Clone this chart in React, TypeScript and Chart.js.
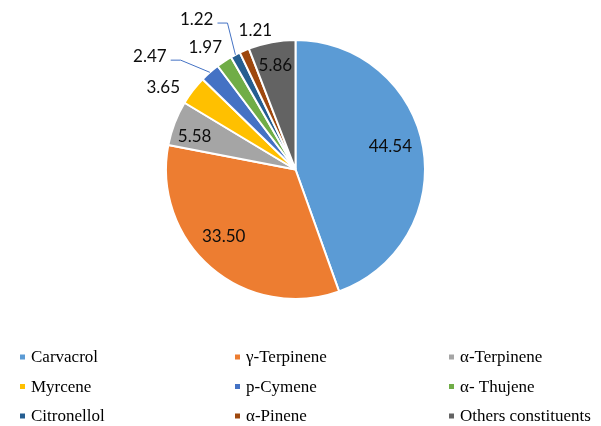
import React, { useEffect, useRef } from "react";
import { Chart, registerables } from "chart.js";

Chart.register(...registerables);

const categories = [
  "Carvacrol",
  "γ-Terpinene",
  "α-Terpinene",
  "Myrcene",
  "p-Cymene",
  "α- Thujene",
  "Citronellol",
  "α-Pinene",
  "Others constituents",
];
const values = [44.54, 33.5, 5.58, 3.65, 2.47, 1.97, 1.22, 1.21, 5.86];
const valueLabels = ["44.54", "33.50", "5.58", "3.65", "2.47", "1.97", "1.22", "1.21", "5.86"];
const colors = [
  "#5B9BD5",
  "#ED7D31",
  "#A5A5A5",
  "#FFC000",
  "#4472C4",
  "#70AD47",
  "#255E91",
  "#9E480E",
  "#636363",
];

// Label placement (style): distance as a fraction of the radius, direction in degrees
const labelRadius = [0.753, 0.76, 0.82, 1.2, 1.425, 1.172, 1.39, 1.118, 0.82];
const labelAngle = [-13.4, 136.9, 198.2, 211.7, 217.9, 233.5, 236.7, 253.9, 259.1];
const leaderLines = [false, false, false, false, true, false, true, false, false];

const LABEL_FONT = '17px Lato, "Open Sans", sans-serif';
const LEGEND_FONT = '17px "Liberation Serif", "Times New Roman", serif';

const overlayPlugin = {
  id: "overlay",
  afterDraw(chart: any) {
    const ctx = chart.ctx as CanvasRenderingContext2D;
    const meta = chart.getDatasetMeta(0);
    ctx.save();
    ctx.font = LABEL_FONT;
    ctx.textAlign = "center";
    ctx.textBaseline = "middle";
    meta.data.forEach((arc: any, i: number) => {
      const p = arc.getProps(["x", "y", "outerRadius", "startAngle", "endAngle"], true);
      const a = (labelAngle[i] * Math.PI) / 180;
      const lx = p.x + Math.cos(a) * p.outerRadius * labelRadius[i];
      const ly = p.y + Math.sin(a) * p.outerRadius * labelRadius[i];
      ctx.fillStyle = "#0d0d0d";
      ctx.fillText(valueLabels[i], lx, ly);
      if (leaderLines[i]) {
        const w = ctx.measureText(valueLabels[i]).width;
        const sx = lx + w / 2 + 4;
        const sy = ly + 4;
        const mid = (p.startAngle + p.endAngle) / 2;
        ctx.beginPath();
        ctx.strokeStyle = "#4472C4";
        ctx.lineWidth = 1;
        ctx.moveTo(sx, sy);
        ctx.lineTo(sx + 10, sy);
        ctx.lineTo(p.x + Math.cos(mid) * p.outerRadius, p.y + Math.sin(mid) * p.outerRadius);
        ctx.stroke();
      }
    });

    // legend: 3 columns
    const colX = [20, 235, 449];
    const rowY = [357, 386.5, 416];
    ctx.font = LEGEND_FONT;
    ctx.textAlign = "left";
    ctx.textBaseline = "middle";
    categories.forEach((name, i) => {
      const cx = colX[i % 3];
      const cy = rowY[Math.floor(i / 3)];
      ctx.fillStyle = colors[i];
      ctx.fillRect(cx, cy - 2.5, 5, 5);
      ctx.fillStyle = "#000000";
      ctx.fillText(name, cx + 11, cy + 1);
    });
    ctx.restore();
  },
};

export default function App() {
  const ref = useRef<HTMLCanvasElement | null>(null);
  useEffect(() => {
    document.body.style.margin = "0";
    let chart: Chart | null = null;
    let cancelled = false;
    const make = () => {
      if (cancelled || !ref.current) return;
      chart = new Chart(ref.current, {
        type: "pie",
        data: {
          labels: categories,
          datasets: [
            {
              data: values,
              backgroundColor: colors,
              borderColor: "#FFFFFF",
              borderWidth: 2,
              radius: 129.5,
            } as any,
          ],
        },
        options: {
          animation: false,
          responsive: false,
          devicePixelRatio: 1,
          layout: { padding: { left: 166, top: 40, right: 176, bottom: 127 } },
          plugins: {
            legend: { display: false },
            tooltip: { enabled: false },
          },
        },
        plugins: [overlayPlugin],
      });
    };
    const fonts = (document as any).fonts;
    if (fonts && fonts.load) {
      Promise.all([fonts.load(LABEL_FONT, "0123456789."), fonts.load(LEGEND_FONT, "Carvacrol αγ")])
        .catch(() => null)
        .then(make);
    } else {
      make();
    }
    return () => {
      cancelled = true;
      if (chart) chart.destroy();
    };
  }, []);
  return (
    <div style={{ position: "absolute", left: 0, top: 0, width: 601, height: 426, background: "#fff" }}>
      <canvas ref={ref} width={601} height={426} style={{ width: 601, height: 426 }} />
    </div>
  );
}
